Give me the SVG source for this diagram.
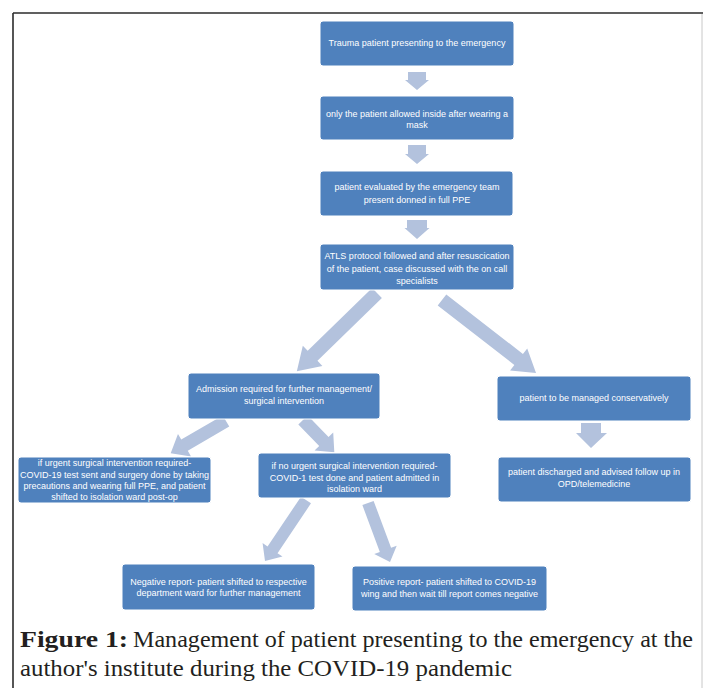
<svg xmlns="http://www.w3.org/2000/svg" width="703" height="688" viewBox="0 0 703 688">
<style>
.box{fill:#4f81bd;stroke:#ffffff;stroke-width:1}
.t{font-family:"Liberation Sans",Arial,sans-serif;font-size:9px;fill:#ffffff;text-anchor:middle}
.arr{fill:#b3c2dd}
.cap{font-family:"Liberation Serif","Times New Roman",serif;font-size:22.5px;fill:#231f20}
</style>
<rect width="703" height="688" fill="#ffffff"/>
<g id="frame">
<line x1="13" y1="13" x2="703" y2="13" stroke="#2b2b2b" stroke-width="1.6"/>
<line x1="13" y1="13" x2="13" y2="688" stroke="#2b2b2b" stroke-width="1.6"/>
<line x1="702" y1="14" x2="702" y2="688" stroke="#c8c8c8" stroke-width="1"/>
</g>
<g id="connectors">
<path class="arr" d="M408,72 H426 V80 H429 L417,90 L405,80 H408 Z"/>
<path class="arr" d="M408,145 H426 V154 H429 L417,164 L405,154 H408 Z"/>
<path class="arr" d="M407,220 H427 V228 H429.5 L417,239 L404.5,228 H407 Z"/>
<path class="arr" transform="translate(377 293) rotate(135.7)" d="M0,-7 H90 V-14 L112,0 L90,14 V7 H0 Z"/>
<path class="arr" transform="translate(442 300) rotate(37.8)" d="M0,-7 H97 V-14 L119,0 L97,14 V7 H0 Z"/>
<path class="arr" transform="translate(226 421) rotate(149.8)" d="M0,-6.5 H48 V-13 L64,0 L48,13 V6.5 H0 Z"/>
<path class="arr" transform="translate(303 420) rotate(45.9)" d="M0,-6.5 H30 V-13 L45,0 L30,13 V6.5 H0 Z"/>
<path class="arr" d="M581,423 H601 V433 H607 L591,448 L576,433 H581 Z"/>
<path class="arr" transform="translate(306 500) rotate(123.9)" d="M0,-6 H60 V-12 L73.5,0 L60,12 V6 H0 Z"/>
<path class="arr" transform="translate(368 503) rotate(69.55)" d="M0,-6 H50 V-12 L63,0 L50,12 V6 H0 Z"/>
</g>
<g id="n1"><rect class="box" x="320" y="21" width="194" height="45" rx="3"/>
<text class="t" x="417" y="46">Trauma patient presenting to the emergency</text></g>
<g id="n2"><rect class="box" x="320" y="96" width="194" height="44" rx="3"/>
<text class="t" x="417" y="117">only the patient allowed inside after wearing a</text>
<text class="t" x="417" y="128">mask</text></g>
<g id="n3"><rect class="box" x="320" y="171" width="193" height="45" rx="3"/>
<text class="t" x="417" y="190">patient evaluated by the emergency team</text>
<text class="t" x="417" y="203">present donned in full PPE</text></g>
<g id="n4"><rect class="box" x="320" y="244" width="194" height="46" rx="3"/>
<text class="t" x="417" y="259">ATLS protocol followed and after resuscication</text>
<text class="t" x="417" y="272">of the patient, case discussed with the on call</text>
<text class="t" x="417" y="284">specialists</text></g>
<g id="n5"><rect class="box" x="188" y="373" width="192" height="46" rx="3"/>
<text class="t" x="284" y="392">Admission required for further management/</text>
<text class="t" x="284" y="404">surgical intervention</text></g>
<g id="n6"><rect class="box" x="497" y="376" width="194" height="45" rx="3"/>
<text class="t" x="594" y="401">patient to be managed conservatively</text></g>
<g id="n7"><rect class="box" x="498" y="457" width="193" height="45" rx="3"/>
<text class="t" x="594" y="475">patient discharged and advised follow up in</text>
<text class="t" x="594" y="487">OPD/telemedicine</text></g>
<g id="n8"><rect class="box" x="18" y="457" width="193" height="46" rx="3"/>
<text class="t" x="114.5" y="466">if urgent surgical intervention required-</text>
<text class="t" x="114.5" y="478">COVID-19 test sent and surgery done by taking</text>
<text class="t" x="114.5" y="489">precautions and wearing full PPE, and patient</text>
<text class="t" x="114.5" y="500">shifted to isolation ward post-op</text></g>
<g id="n9"><rect class="box" x="258" y="453" width="193" height="45" rx="3"/>
<text class="t" x="354.5" y="469">if no urgent surgical intervention required-</text>
<text class="t" x="354.5" y="481">COVID-1 test done and patient admitted in</text>
<text class="t" x="354.5" y="492">isolation ward</text></g>
<g id="n10"><rect class="box" x="122" y="564" width="193" height="46" rx="3"/>
<text class="t" x="218.5" y="585">Negative report- patient shifted to respective</text>
<text class="t" x="218.5" y="596">department ward for further management</text></g>
<g id="n11"><rect class="box" x="352" y="566" width="195" height="45" rx="3"/>
<text class="t" x="449.5" y="585">Positive report- patient shifted to COVID-19</text>
<text class="t" x="449.5" y="597">wing and then wait till report comes negative</text></g>
<g id="caption">
<text class="cap" x="20" y="647" font-weight="bold" textLength="108" lengthAdjust="spacingAndGlyphs">Figure 1:</text>
<text class="cap" x="133" y="647" textLength="560" lengthAdjust="spacingAndGlyphs">Management of patient presenting to the emergency at the</text>
<text class="cap" x="20" y="676" textLength="492" lengthAdjust="spacingAndGlyphs">author's institute during the COVID-19 pandemic</text>
</g>
</svg>
